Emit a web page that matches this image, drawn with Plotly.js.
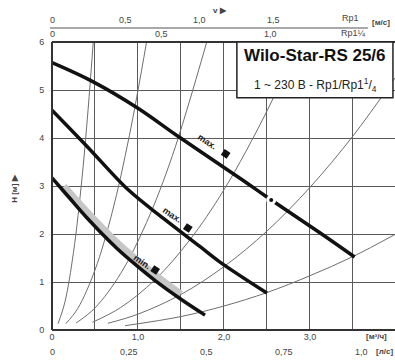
<!DOCTYPE html>
<html>
<head>
<meta charset="utf-8">
<script src="https://cdn.plot.ly/plotly-3.0.1.min.js"></script>
<style>html,body{margin:0;padding:0;background:#fff;}#chart{width:395px;height:360px;}</style>
</head>
<body>
<div id="chart"></div>
<script>
// Pump curves: Q [m³/h], H [m]
const qMaxTop = [0, 0.48, 1.0, 1.47, 2.22, 2.5, 3.12, 3.52];
const hMaxTop = [5.57, 5.17, 4.62, 4.03, 3.12, 2.77, 2.02, 1.52];
const qMaxMid = [0, 0.4, 0.887, 1.3, 1.72, 1.95, 2.5];
const hMaxMid = [4.58, 3.84, 2.92, 2.32, 1.74, 1.42, 0.77];
const qMin = [0, 0.2, 0.4, 0.75, 1.0, 1.2, 1.5, 1.78];
const hMin = [3.17, 2.76, 2.35, 1.71, 1.32, 1.03, 0.64, 0.31];
// Grey band along the min curve
const qBand = [0.13, 0.4, 0.75, 1.0, 1.2, 1.49];
const hBand = [2.98, 2.44, 1.80, 1.41, 1.12, 0.73];
// Marked point on the top curve
const qDot = [2.55];
const hDot = [2.71];
// System curves
const sysA_q = [0.07, 0.15, 0.25, 0.35, 0.42, 0.48];
const sysA_h = [0.13, 0.58, 1.62, 3.18, 4.6, 6.0];
const sysB_q = [0.16, 0.3, 0.5, 0.7, 0.9, 1.1];
const sysB_h = [0.13, 0.45, 1.25, 2.45, 4.05, 6.0];
const sysC_q = [0.28, 0.5, 0.8, 1.1, 1.4, 1.8];
const sysC_h = [0.145, 0.46, 1.18, 2.24, 3.63, 6.0];
const sysD_q = [0.47, 0.8, 1.2, 1.6, 2.0, 2.5, 2.87];
const sysD_h = [0.16, 0.47, 1.05, 1.87, 2.92, 4.56, 6.0];
const sysE_q = [0.65, 1.0, 1.5, 2.0, 2.5, 3.0, 3.5, 3.99];
const sysE_h = [0.14, 0.33, 0.74, 1.32, 2.06, 2.97, 4.04, 5.25];
const sysF_q = [0.85, 1.5, 2.0, 2.5, 3.0, 3.5, 3.99];
const sysF_h = [0.09, 0.28, 0.5, 0.78, 1.13, 1.53, 1.99];
// Axis ticks
const qTicks = [0, 1.0, 2.0, 3.0];
const qTickText = ['0', '1,0', '2,0', '3,0'];
const hTicks = [0, 1, 2, 3, 4, 5, 6];
const lsTicks = [0, 0.25, 0.5, 0.75, 1.0];
const lsTickText = ['0', '0,25', '0,5', '0,75', '1,0'];
const vRp1Ticks = [0, 0.5, 1.0, 1.5];
const vRp1Text = ['0', '0,5', '1,0', '1,5'];
const vRp114Ticks = [0, 0.5, 1.0];
const vRp114Text = ['0', '0,5', '1,0'];
const M3H_PER_LS = 3.6;
const M3H_PER_MS_RP1 = 1.72;
const M3H_PER_MS_RP114 = 2.54;

const font = 'Liberation Sans, Arial, sans-serif';
const sysCurves = [[sysA_q, sysA_h], [sysB_q, sysB_h], [sysC_q, sysC_h], [sysD_q, sysD_h], [sysE_q, sysE_h], [sysF_q, sysF_h]];

const traces = [];
sysCurves.forEach(function (c) {
  traces.push({x: c[0], y: c[1], mode: 'lines', line: {color: '#6e6e6e', width: 1, shape: 'spline'}, hoverinfo: 'skip'});
});
traces.push({x: qBand, y: hBand, mode: 'lines', line: {color: '#c6c6c6', width: 9, shape: 'spline'}, hoverinfo: 'skip'});
[[qMaxTop, hMaxTop], [qMaxMid, hMaxMid], [qMin, hMin]].forEach(function (c) {
  traces.push({x: c[0], y: c[1], mode: 'lines', line: {color: '#111', width: 3.5, shape: 'spline'}});
});
traces.push({x: qDot, y: hDot, mode: 'markers', marker: {color: '#111', size: 7, line: {color: '#fff', width: 3}}});
// label flags
traces.push({x: [2.02, 1.58, 1.20], y: [3.67, 2.125, 1.25], mode: 'markers',
  marker: {symbol: 'square', color: '#111', size: 7, angle: 34}});

const tf = {family: font, size: 9, color: '#444'};
const ann = [];
function A(o) { o.showarrow = false; o.xanchor = o.xanchor || 'center'; o.yanchor = o.yanchor || 'middle'; ann.push(o); }
lsTicks.forEach(function (v, i) {
  A({x: v * M3H_PER_LS, y: -0.076, xref: 'x', yref: 'paper', text: lsTickText[i], font: tf});
});
vRp1Ticks.forEach(function (v, i) {
  A({x: v * M3H_PER_MS_RP1, y: 1.076, xref: 'x', yref: 'paper', text: vRp1Text[i], font: tf});
});
vRp114Ticks.forEach(function (v, i) {
  A({x: v * M3H_PER_MS_RP114, y: 1.027, xref: 'x', yref: 'paper', text: vRp114Text[i], font: tf});
});
const uf = {family: font, size: 8, color: '#444'};
A({xref: 'paper', yref: 'paper', x: 0.87, y: 1.083, text: 'Rp1', font: tf});
A({xref: 'paper', yref: 'paper', x: 0.96, y: 1.066, text: '<b>[м/с]</b>', font: uf});
A({xref: 'paper', yref: 'paper', x: 0.878, y: 1.031, text: 'Rp1¼', font: tf});
A({xref: 'paper', yref: 'paper', x: 0.49, y: 1.111, text: '<b>v ▶</b>', font: uf});
A({xref: 'paper', yref: 'paper', x: 0.945, y: -0.024, text: '<b>[м³/ч]</b>', font: uf});
A({xref: 'paper', yref: 'paper', x: 0.97, y: -0.076, text: '<b>[л/с]</b>', font: uf});
A({xref: 'paper', yref: 'paper', x: -0.108, y: 0.49, text: '<b>H [м] ▶</b>', textangle: -90, font: uf});
A({xref: 'paper', yref: 'paper', x: 0.767, y: 0.952, text: '<b>Wilo-Star-RS 25/6</b>', font: {family: font, size: 17, color: '#111'}});
A({xref: 'paper', yref: 'paper', x: 0.767, y: 0.85, text: '1 ~ 230 B - Rp1/Rp1<sup>1</sup>/<sub>4</sub>', font: {family: font, size: 12, color: '#222'}});
const lf = {family: font, size: 9, color: '#222'};
A({x: 1.81, y: 3.92, text: '<b>max.</b>', textangle: 34, font: lf});
A({x: 1.40, y: 2.40, text: '<b>max.</b>', textangle: 34, font: lf});
A({x: 1.05, y: 1.42, text: '<b>min.</b>', textangle: 34, font: lf});

const layout = {
  width: 395, height: 360,
  margin: {l: 52, r: 0, t: 42, b: 30, pad: 0},
  paper_bgcolor: '#fff', plot_bgcolor: '#fff',
  showlegend: false,
  xaxis: {range: [0, 3.99], tickvals: qTicks, ticktext: qTickText, showgrid: true, gridcolor: '#5a5a5a', gridwidth: 1,
    minor: {dtick: 0.5, showgrid: true, gridcolor: '#5a5a5a', gridwidth: 1},
    zeroline: false, showline: false, ticks: '', tickfont: tf, fixedrange: true},
  yaxis: {range: [0, 6], tickvals: hTicks, showgrid: true, gridcolor: '#5a5a5a', gridwidth: 1,
    zeroline: false, showline: false, ticks: 'outside', ticklen: 5, tickcolor: 'rgba(0,0,0,0)', tickfont: tf, fixedrange: true},
  shapes: [
    {type: 'line', xref: 'paper', yref: 'paper', x0: 0, x1: 0, y0: 0, y1: 1, line: {color: '#333', width: 2}},
    {type: 'line', xref: 'paper', yref: 'paper', x0: 0, x1: 1.01, y0: 0, y1: 0, line: {color: '#333', width: 2}},
    {type: 'line', xref: 'paper', yref: 'paper', x0: 0, x1: 1.01, y0: 1, y1: 1, line: {color: '#333', width: 2}},
    {type: 'line', xref: 'paper', yref: 'paper', x0: -0.006, x1: 0.921, y0: 1.0486, y1: 1.0486, line: {color: '#555', width: 1.2}},
    {type: 'rect', xref: 'paper', yref: 'paper', x0: 0.539, x1: 0.994, y0: 0.806, y1: 1.0, fillcolor: '#fff', line: {color: '#222', width: 1.5}, layer: 'above'}
  ],
  annotations: ann
};

Plotly.newPlot('chart', traces, layout, {displayModeBar: false, staticPlot: true});
</script>
</body>
</html>
